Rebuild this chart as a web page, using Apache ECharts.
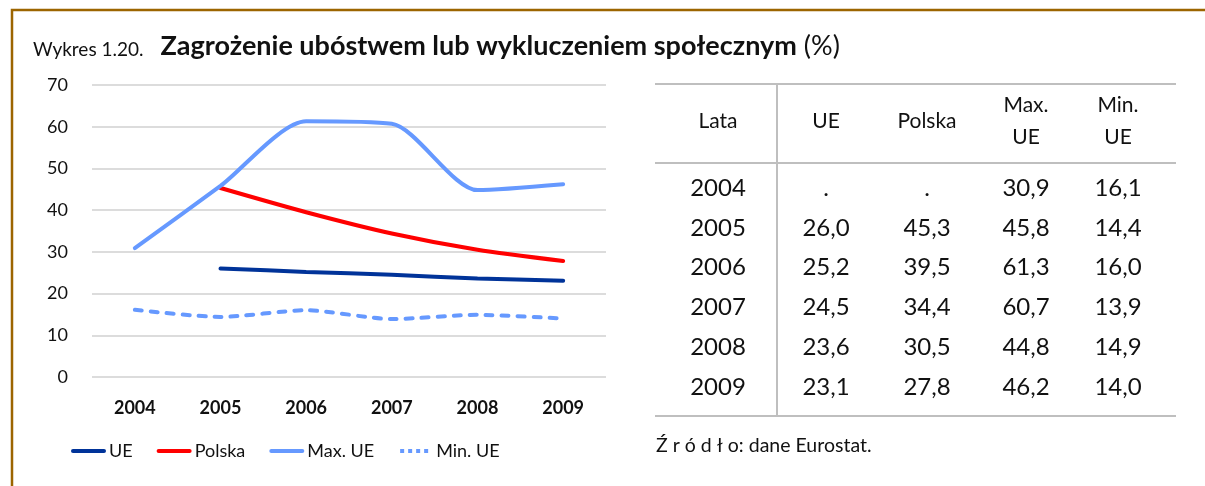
<!DOCTYPE html>
<html>
<head>
<meta charset="utf-8">
<script src="https://cdn.jsdelivr.net/npm/echarts@6/dist/echarts.min.js"></script>
<style>
  html, body { margin: 0; padding: 0; background: #fff; }
  #chart { width: 1205px; height: 486px; }
</style>
</head>
<body>
<div id="chart"></div>
<script>
  'use strict';

  var years = ['2004', '2005', '2006', '2007', '2008', '2009'];
  var ue = [null, 26.0, 25.2, 24.5, 23.6, 23.1];
  var polska = [null, 45.3, 39.5, 34.4, 30.5, 27.8];
  var maxUe = [30.9, 45.8, 61.3, 60.7, 44.8, 46.2];
  var minUe = [16.1, 14.4, 16.0, 13.9, 14.9, 14.0];
  var tableHeaders = ['Lata', 'UE', 'Polska', 'Max.\nUE', 'Min.\nUE'];

  var FONT = 'Lato, "Open Sans", sans-serif';
  var colX = [718, 826, 927, 1026, 1118];

  function fmt(v) {
    return v == null ? '.' : v.toFixed(1).replace('.', ',');
  }

  function buildTable() {
    var els = [];
    var lineStyle = { stroke: '#BFBFBF', lineWidth: 2 };
    [84, 163, 416].forEach(function (y) {
      els.push({ type: 'line', shape: { x1: 655, y1: y, x2: 1176, y2: y }, style: lineStyle });
    });
    els.push({ type: 'line', shape: { x1: 777, y1: 84, x2: 777, y2: 416 }, style: lineStyle });

    tableHeaders.forEach(function (h, i) {
      els.push({
        type: 'text', x: colX[i], y: 121,
        style: {
          text: h, align: 'center', verticalAlign: 'middle',
          font: '21px ' + FONT, lineHeight: 32, fill: '#111'
        }
      });
    });

    years.forEach(function (yr, r) {
      var row = [yr, fmt(ue[r]), fmt(polska[r]), fmt(maxUe[r]), fmt(minUe[r])];
      row.forEach(function (txt, c) {
        els.push({
          type: 'text', x: colX[c], y: 188 + r * 39.8,
          style: {
            text: txt, align: 'center', verticalAlign: 'middle',
            font: '24px ' + FONT, fill: '#111'
          }
        });
      });
    });
    return els;
  }

  var graphics = [
    {
      type: 'rect', shape: { x: 12, y: 10, width: 1300, height: 600 },
      style: { fill: 'none', stroke: '#9C6500', lineWidth: 2.5 }, silent: true
    },
    {
      type: 'text', x: 33, y: 60,
      style: {
        text: '{a|Wykres 1.20.}{s|}{b|Zagrożenie ubóstwem lub wykluczeniem społecznym}{c| (%)}',
        verticalAlign: 'bottom',
        rich: {
          a: { font: '19px ' + FONT, fill: '#111', verticalAlign: 'bottom', padding: [0, 0, 1, 0] },
          s: { width: 17 },
          b: { font: 'bold 27px ' + FONT, fill: '#111', verticalAlign: 'bottom' },
          c: { font: '27px ' + FONT, fill: '#111', verticalAlign: 'bottom' }
        }
      }
    },
    {
      type: 'text', x: 656, y: 446,
      style: {
        text: 'Ź r ó d ł o: dane Eurostat.', verticalAlign: 'middle',
        font: '19.5px ' + FONT, fill: '#111'
      }
    }
  ].concat(buildTable());

  function lineSeries(name, data, color, dashed) {
    return {
      name: name,
      type: 'line',
      data: data,
      smooth: 0.25,
      symbol: 'none',
      connectNulls: false,
      lineStyle: {
        color: color, width: 4,
        type: dashed ? [7, 9] : 'solid',
        cap: 'round'
      },
      itemStyle: { color: color }
    };
  }

  var chart = echarts.init(document.getElementById('chart'));
  chart.setOption({
    animation: false,
    textStyle: { fontFamily: FONT },
    grid: { left: 92, right: 599, top: 85, bottom: 109 },
    legend: {
      left: 66, top: 437,
      itemWidth: 31, itemHeight: 18, itemGap: 24,
      itemStyle: { opacity: 0 },
      lineStyle: { width: 4 },
      textStyle: { fontSize: 18, color: '#111', fontFamily: FONT },
      data: ['UE', 'Polska', 'Max. UE', {
        name: 'Min. UE',
        lineStyle: { type: [4, 4], cap: 'butt', width: 4 }
      }]
    },
    xAxis: {
      type: 'category',
      data: years,
      boundaryGap: true,
      axisLine: { show: false },
      axisTick: { show: false },
      axisLabel: { margin: 22, fontSize: 18, fontWeight: 'bold', color: '#111', fontFamily: FONT }
    },
    yAxis: {
      type: 'value',
      min: 0, max: 70, interval: 10,
      axisLine: { show: false },
      axisTick: { show: false },
      axisLabel: { margin: 24, fontSize: 18, color: '#111', fontFamily: FONT },
      splitLine: { lineStyle: { color: '#D0D0D0', width: 1.5 } }
    },
    series: [
      lineSeries('UE', ue, '#003399', false),
      lineSeries('Polska', polska, '#FF0000', false),
      lineSeries('Max. UE', maxUe, '#6699FF', false),
      lineSeries('Min. UE', minUe, '#6699FF', true)
    ],
    graphic: graphics
  });
</script>
</body>
</html>
